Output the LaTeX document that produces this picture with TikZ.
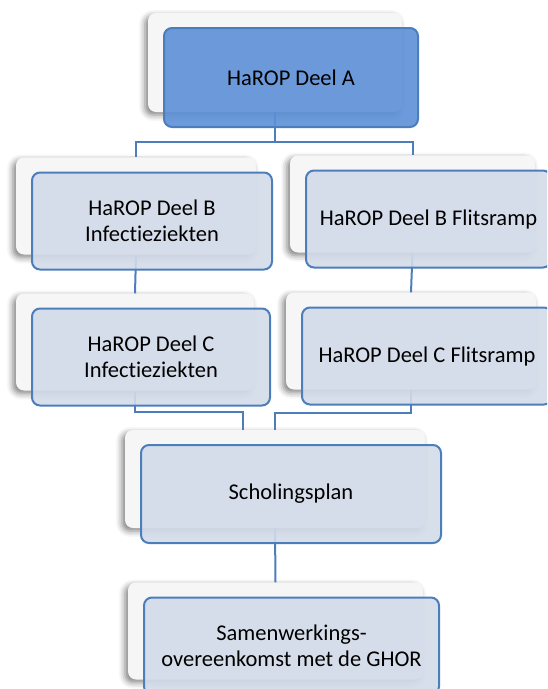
\documentclass[tikz,border=0pt]{standalone}
\usepackage{fontspec}
\setmainfont{Carlito}[Ligatures={NoCommon,NoRare}]
\usepackage{xcolor}
\usepackage{tikz}
\usetikzlibrary{calc,positioning,shadows.blur}
\definecolor{boxfill}{RGB}{211,219,233}
\definecolor{boxline}{RGB}{76,126,187}
\definecolor{topfill}{RGB}{92,143,214}
\definecolor{backfill}{RGB}{246,246,246}
\tikzset{ORG style/.style={x=1pt,y=-1pt,every node/.append style={rectangle,rounded corners=8pt,inner sep=0}}}

\begin{document}
\begin{tikzpicture}[ORG style]
	\tikzstyle{wd}=[minimum width=#1]
	\tikzstyle{back}=[fill=backfill, minimum height=97,
	blur shadow={shadow xshift=-3pt,shadow yshift=-3pt,shadow blur radius=6pt,shadow opacity=50}]
	\tikzstyle{front}=[draw=boxline, line width=2pt, fill=boxfill, fill opacity=0.9,
	text opacity=1, minimum height=97, align=center, xshift=16, yshift=-15,
	font=\fontsize{22.5}{26}\selectfont]
	\tikzstyle{link}=[draw=boxline, line width=2pt]

	\useasboundingbox (0,0) rectangle (547,689);
	\clip (0,0) rectangle (547,689);

	\node[back, wd=254, minimum height=99] (a0) at (275,62.5) {};
	\node[back, wd=240] (bl0) at (136,206) {};
	\node[back, wd=245] (br0) at (412.5,204) {};
	\node[back, wd=238] (cl0) at (135,342) {};
	\node[back, wd=250] (cr0) at (411,341) {};
	\node[back, wd=300, minimum height=98] (s0) at (275,479) {};
	\node[back, wd=295] (g0) at (275.5,631) {};

	% lines between the back boxes
	\path[link] (a0.south) -- ++(0,30) coordinate (m);
	\path[link] (m) -| (bl0.north);
	\path[link] (m) -| (br0.north);
	\path[link] (bl0.south) -- (cl0.north);
	\path[link] (br0.south) -- (cr0.north);
	\path[link] (cl0.south) -- ++(0,21) -| ([xshift=-32pt]s0.north);
	\path[link] (cr0.south) -- ++(0,23) -| (s0.north);
	\path[link] (s0.south) -- (g0.north);

	\node[front, wd=254, minimum height=99, fill=topfill] (a) at (a0) {HaROP Deel A};
	\node[front, wd=240] (bl) at (bl0) {HaROP Deel B\\Infectieziekten};
	\node[front, wd=245] (br) at (br0) {HaROP Deel B Flitsramp};
	\node[front, wd=238] (cl) at (cl0) {HaROP Deel C\\Infectieziekten};
	\node[front, wd=250] (cr) at (cr0) {HaROP Deel C Flitsramp};
	\node[front, wd=300, minimum height=98] (s) at (s0) {Scholingsplan};
	\node[front, wd=295] (g) at (g0) {Samenwerkings-\\overeenkomst met de GHOR};
\end{tikzpicture}
\end{document}
